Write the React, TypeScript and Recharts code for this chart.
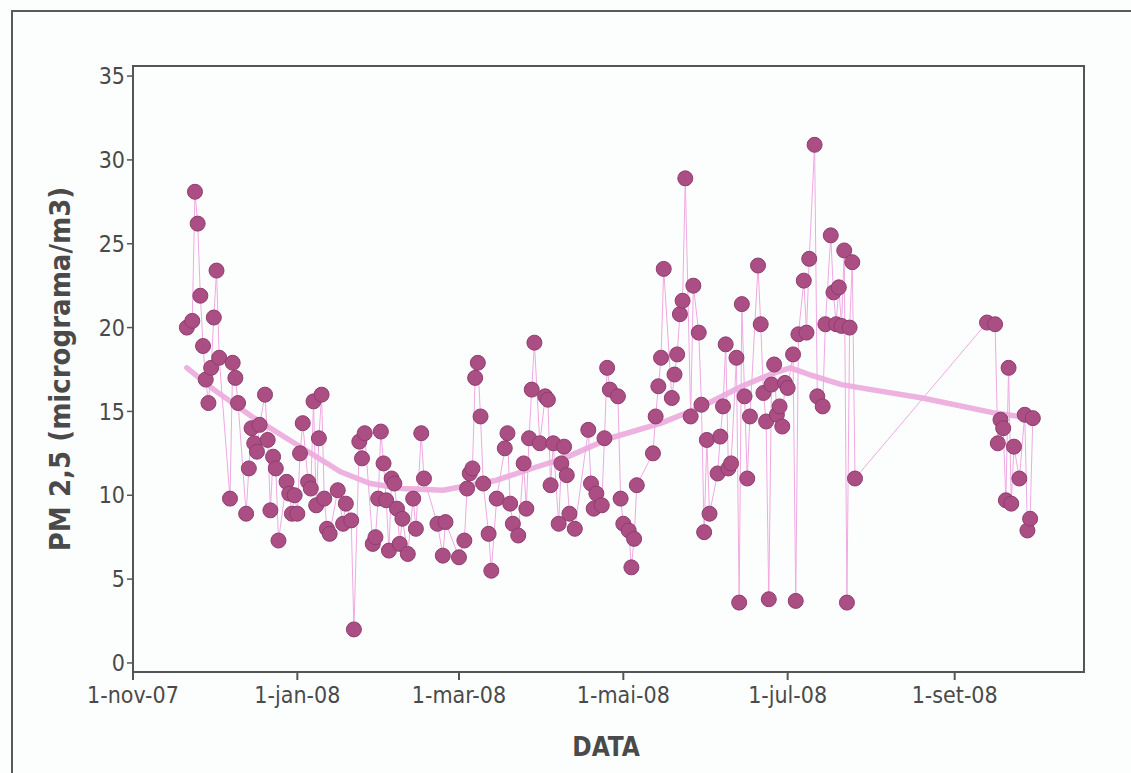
import React from 'react';
import { ScatterChart, Scatter, XAxis, YAxis, ReferenceArea } from 'recharts';

// ---- data ----
const sampleDates: string[] = [
  '2007-11-21','2007-11-23','2007-11-24','2007-11-25','2007-11-26','2007-11-27','2007-11-28','2007-11-29','2007-11-30',
  '2007-12-01','2007-12-02','2007-12-03','2007-12-07','2007-12-08','2007-12-09','2007-12-10','2007-12-13','2007-12-14',
  '2007-12-15','2007-12-16','2007-12-17','2007-12-18','2007-12-20','2007-12-21','2007-12-22','2007-12-23','2007-12-24',
  '2007-12-25','2007-12-28','2007-12-29','2007-12-30','2007-12-31',
  '2008-01-01','2008-01-02','2008-01-03','2008-01-05','2008-01-06','2008-01-07','2008-01-08','2008-01-09','2008-01-10',
  '2008-01-11','2008-01-12','2008-01-13','2008-01-16','2008-01-18','2008-01-19','2008-01-21','2008-01-22','2008-01-24',
  '2008-01-25','2008-01-26','2008-01-29','2008-01-30','2008-01-31',
  '2008-02-01','2008-02-02','2008-02-03','2008-02-04','2008-02-05','2008-02-06','2008-02-07','2008-02-08','2008-02-09',
  '2008-02-11','2008-02-13','2008-02-14','2008-02-16','2008-02-17','2008-02-22','2008-02-24','2008-02-25',
  '2008-03-01','2008-03-03','2008-03-04','2008-03-05','2008-03-06','2008-03-07','2008-03-08','2008-03-09','2008-03-10',
  '2008-03-12','2008-03-13','2008-03-15','2008-03-18','2008-03-19','2008-03-20','2008-03-21','2008-03-23','2008-03-25',
  '2008-03-26','2008-03-27','2008-03-28','2008-03-29','2008-03-31',
  '2008-04-02','2008-04-03','2008-04-04','2008-04-05','2008-04-07','2008-04-08','2008-04-09','2008-04-10','2008-04-11',
  '2008-04-13','2008-04-18','2008-04-19','2008-04-20','2008-04-21','2008-04-23','2008-04-24','2008-04-25','2008-04-26',
  '2008-04-29','2008-04-30',
  '2008-05-01','2008-05-03','2008-05-04','2008-05-05','2008-05-06','2008-05-12','2008-05-13','2008-05-14','2008-05-15',
  '2008-05-16','2008-05-19','2008-05-20','2008-05-21','2008-05-22','2008-05-23','2008-05-24','2008-05-26','2008-05-27',
  '2008-05-29','2008-05-30','2008-05-31',
  '2008-06-01','2008-06-02','2008-06-05','2008-06-06','2008-06-07','2008-06-08','2008-06-09','2008-06-10','2008-06-12',
  '2008-06-13','2008-06-14','2008-06-15','2008-06-16','2008-06-17','2008-06-20','2008-06-21','2008-06-22','2008-06-23',
  '2008-06-24','2008-06-25','2008-06-26','2008-06-27','2008-06-28','2008-06-29','2008-06-30',
  '2008-07-01','2008-07-03','2008-07-04','2008-07-05','2008-07-07','2008-07-08','2008-07-09','2008-07-11','2008-07-12',
  '2008-07-14','2008-07-15','2008-07-17','2008-07-18','2008-07-19','2008-07-20','2008-07-21','2008-07-22','2008-07-23',
  '2008-07-24','2008-07-25','2008-07-26',
  '2008-09-13','2008-09-16','2008-09-17','2008-09-18','2008-09-19','2008-09-20','2008-09-21','2008-09-22','2008-09-23',
  '2008-09-25','2008-09-27','2008-09-28','2008-09-29','2008-09-30',
];

const pm25Values: number[] = [
  20.0, 20.4, 28.1, 26.2, 21.9, 18.9, 16.9, 15.5, 17.6,
  20.6, 23.4, 18.2, 9.8, 17.9, 17.0, 15.5, 8.9, 11.6,
  14.0, 13.1, 12.6, 14.2, 16.0, 13.3, 9.1, 12.3, 11.6,
  7.3, 10.8, 10.1, 8.9, 10.0,
  8.9, 12.5, 14.3, 10.8, 10.4, 15.6, 9.4, 13.4, 16.0,
  9.8, 8.0, 7.7, 10.3, 8.3, 9.5, 8.5, 2.0, 13.2,
  12.2, 13.7, 7.1, 7.5, 9.8,
  13.8, 11.9, 9.7, 6.7, 11.0, 10.7, 9.2, 7.1, 8.6,
  6.5, 9.8, 8.0, 13.7, 11.0, 8.3, 6.4, 8.4,
  6.3, 7.3, 10.4, 11.3, 11.6, 17.0, 17.9, 14.7, 10.7,
  7.7, 5.5, 9.8, 12.8, 13.7, 9.5, 8.3, 7.6, 11.9,
  9.2, 13.4, 16.3, 19.1, 13.1,
  15.9, 15.7, 10.6, 13.1, 8.3, 11.9, 12.9, 11.2, 8.9,
  8.0, 13.9, 10.7, 9.2, 10.1, 9.4, 13.4, 17.6, 16.3,
  15.9, 9.8,
  8.3, 7.9, 5.7, 7.4, 10.6, 12.5, 14.7, 16.5, 18.2,
  23.5, 15.8, 17.2, 18.4, 20.8, 21.6, 28.9, 14.7, 22.5,
  19.7, 15.4, 7.8,
  13.3, 8.9, 11.3, 13.5, 15.3, 19.0, 11.6, 11.9, 18.2,
  3.6, 21.4, 15.9, 11.0, 14.7, 23.7, 20.2, 16.1, 14.4,
  3.8, 16.6, 17.8, 14.8, 15.3, 14.1, 16.7,
  16.4, 18.4, 3.7, 19.6, 22.8, 19.7, 24.1, 30.9, 15.9,
  15.3, 20.2, 25.5, 22.1, 20.2, 22.4, 20.1, 24.6, 3.6,
  20.0, 23.9, 11.0,
  20.3, 20.2, 13.1, 14.5, 14.0, 9.7, 17.6, 9.5, 12.9,
  11.0, 14.8, 7.9, 8.6, 14.6,
];

const trendDates: string[] = [
  '2007-11-21','2007-12-01','2007-12-16','2007-12-31','2008-01-17','2008-01-28','2008-02-09','2008-02-24',
  '2008-03-05','2008-03-15','2008-03-30','2008-04-09','2008-04-26','2008-05-15','2008-05-29','2008-06-14',
  '2008-06-26','2008-07-02','2008-07-09','2008-07-21','2008-08-01','2008-08-20','2008-09-16','2008-09-30',
];
const trendValues: number[] = [
  17.6, 16.3, 14.6, 13.1, 11.4, 10.7, 10.4, 10.3,
  10.6, 10.9, 11.7, 12.2, 13.4, 14.3, 15.2, 16.5,
  17.3, 17.6, 17.2, 16.6, 16.3, 15.8, 14.9, 14.6,
];

const xTickDates: string[] = ['2007-11-01', '2008-01-01', '2008-03-01', '2008-05-01', '2008-07-01', '2008-09-01'];
const xTickLabels: string[] = ['1-nov-07', '1-jan-08', '1-mar-08', '1-mai-08', '1-jul-08', '1-set-08'];
const yTicks: number[] = [0, 5, 10, 15, 20, 25, 30, 35];

const xDomainDates: string[] = ['2007-11-01', '2008-10-19'];
const yDomain: [number, number] = [-0.54, 35.6];

// ---- derived tables ----
const points = sampleDates.map((d, i) => ({ t: Date.parse(d), v: pm25Values[i] }));
const trend = trendDates.map((d, i) => ({ t: Date.parse(d), v: trendValues[i] }));
const xTicks = xTickDates.map((d) => Date.parse(d));
const xDomain: [number, number] = [Date.parse(xDomainDates[0]), Date.parse(xDomainDates[1])];
const tickLabelFor = (t: number) => {
  const i = xTicks.indexOf(t);
  return i >= 0 ? xTickLabels[i] : '';
};

const FONT = '"DejaVu Sans Condensed", "DejaVu Sans", sans-serif';
const TEXT = '#4a4a4a';
const AXIS = '#555555';

const W = 1131;
const H = 773;

const Dot = (props: any) => {
  const { cx, cy } = props;
  if (cx == null || cy == null) return <g />;
  return <circle cx={cx} cy={cy} r={7.5} fill="#ab4e83" stroke="#8e3d6f" strokeWidth={1} />;
};
const NoDot = () => <g />;

export default function App() {
  return (
    <div style={{ position: 'absolute', left: 0, top: 0, width: W, height: H, background: '#fcfefe', overflow: 'hidden' }}>
      <ScatterChart width={W} height={H} margin={{ top: 66, right: 47, bottom: 61, left: 73 }}>
        <XAxis
          type="number"
          dataKey="t"
          domain={xDomain}
          ticks={xTicks}
          tickFormatter={tickLabelFor}
          height={40}
          tickSize={8}
          tickMargin={7}
          interval={0}
          allowDataOverflow
          axisLine={{ stroke: AXIS, strokeWidth: 2 }}
          tickLine={{ stroke: AXIS, strokeWidth: 2 }}
          tick={{ fill: TEXT, fontSize: 23, fontFamily: FONT }}
        />
        <YAxis
          type="number"
          dataKey="v"
          domain={yDomain}
          ticks={yTicks}
          width={60}
          tickSize={6}
          tickMargin={2}
          interval={0}
          allowDataOverflow
          axisLine={{ stroke: AXIS, strokeWidth: 2 }}
          tickLine={{ stroke: AXIS, strokeWidth: 1.5 }}
          tick={{ fill: TEXT, fontSize: 23, fontFamily: FONT }}
        />
        <ReferenceArea
          x1={xDomain[0]}
          x2={xDomain[1]}
          y1={yDomain[0]}
          y2={yDomain[1]}
          fill="none"
          stroke={AXIS}
          strokeWidth={2}
          ifOverflow="visible"
        />
        <Scatter
          data={trend}
          line={{ stroke: '#ebaadd', strokeWidth: 5.5, strokeOpacity: 0.9, strokeLinejoin: 'round', strokeLinecap: 'round' }}
          lineType="joint"
          shape={<NoDot />}
          isAnimationActive={false}
        />
        <Scatter
          data={points}
          line={{ stroke: '#f0a9e2', strokeWidth: 1 }}
          lineType="joint"
          shape={<Dot />}
          isAnimationActive={false}
        />
      </ScatterChart>
      <svg width={W} height={H} style={{ position: 'absolute', left: 0, top: 0, pointerEvents: 'none' }}>
        <rect x={12} y={11} width={1300} height={900} fill="none" stroke="#5a5a5a" strokeWidth={2} />
        <text
          x={0}
          y={0}
          transform="translate(60,369) rotate(-90)"
          textAnchor="middle"
          dominantBaseline="central"
          fill={TEXT}
          fontFamily={FONT}
          fontWeight="bold"
          fontSize={29}
        >
          PM 2,5 (micrograma/m3)
        </text>
        <text
          x={606}
          y={747}
          textAnchor="middle"
          dominantBaseline="central"
          fill={TEXT}
          fontFamily={FONT}
          fontWeight="bold"
          fontSize={26}
        >
          DATA
        </text>
      </svg>
    </div>
  );
}
